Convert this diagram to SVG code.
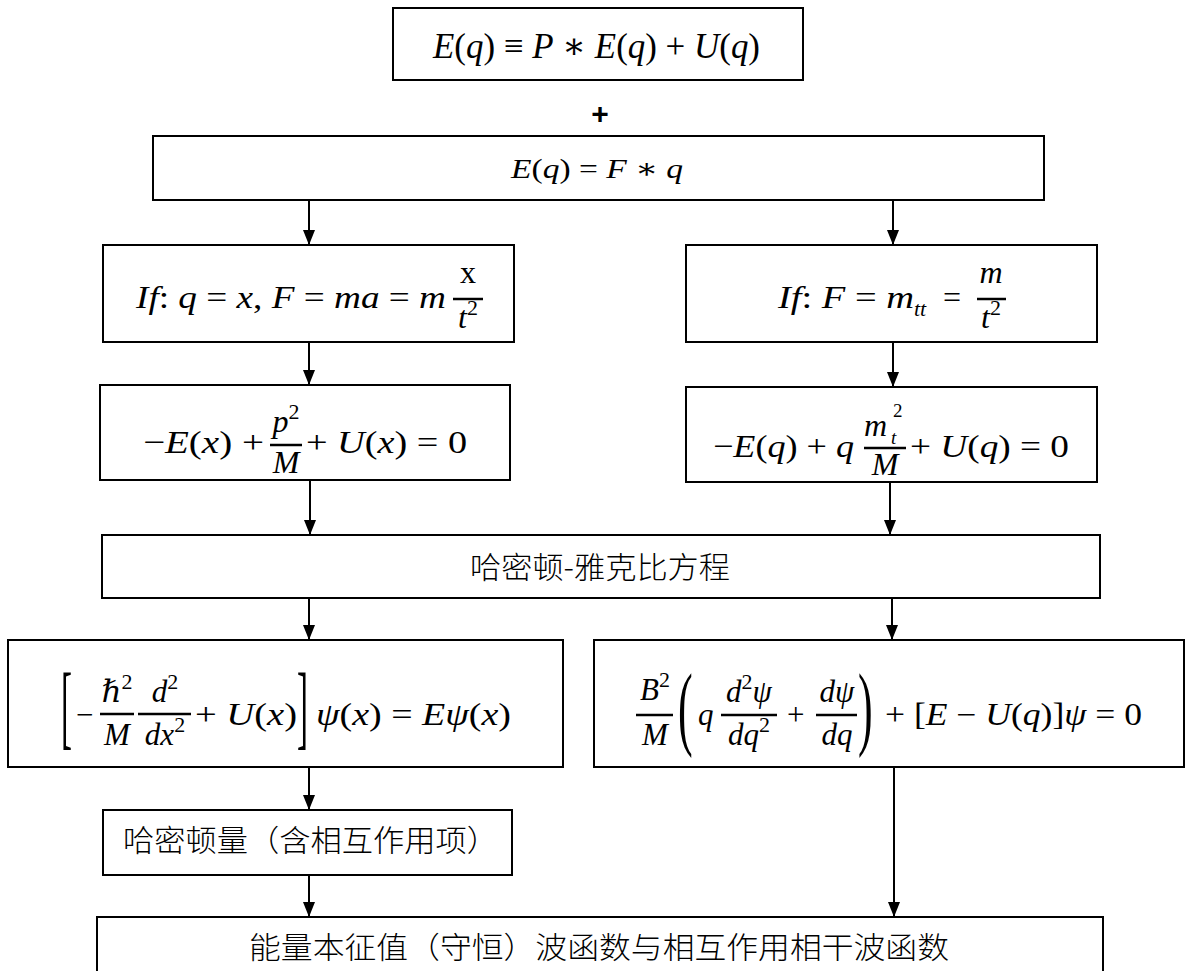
<svg xmlns="http://www.w3.org/2000/svg" width="1186" height="971" viewBox="0 0 1186 971">
<style>
.box{fill:#fff;stroke:#000;stroke-width:2}
.m{font-family:"Liberation Serif","DejaVu Serif",serif;font-size:32px;fill:#000}
.i{font-style:italic}
.s{font-size:22px}
.d{font-family:"Liberation Serif","DejaVu Serif",serif;font-size:44px;fill:#000}
.bar{stroke:#000;stroke-width:2.5}
.cjk{font-family:"Noto Sans CJK SC",sans-serif;font-size:30px;font-weight:300;fill:#000}
.conn line{stroke:#000;stroke-width:2}
</style>
<defs>
<marker id="ah" markerUnits="userSpaceOnUse" markerWidth="12" markerHeight="16" refX="6" refY="15" orient="0" viewBox="0 0 12 16">
<path d="M0,0 L12,0 L6,15 Z" fill="#000"/>
</marker>
</defs>

<g id="n-top">
<rect class="box" x="393" y="8" width="410" height="72"/>
<text class="m" x="433" y="58" textLength="327" lengthAdjust="spacingAndGlyphs" style="font-size:36px"><tspan class="i">E</tspan>(<tspan class="i">q</tspan>) ≡ <tspan class="i">P</tspan> ∗ <tspan class="i">E</tspan>(<tspan class="i">q</tspan>) + <tspan class="i">U</tspan>(<tspan class="i">q</tspan>)</text>
</g>

<g id="plus">
<text x="600" y="124" text-anchor="middle" style="font-family:'Liberation Sans',sans-serif;font-size:30px;font-weight:bold">+</text>
</g>

<g id="n-eq2">
<rect class="box" x="153" y="136" width="891" height="64"/>
<text class="m" x="511" y="178" textLength="172" lengthAdjust="spacingAndGlyphs" style="font-size:28px"><tspan class="i">E</tspan>(<tspan class="i">q</tspan>) = <tspan class="i">F</tspan> ∗ <tspan class="i">q</tspan></text>
</g>

<g id="n-ifL">
<rect class="box" x="103" y="245" width="411" height="97"/>
<text class="m" x="136" y="308" textLength="310" lengthAdjust="spacingAndGlyphs"><tspan class="i">If</tspan>: <tspan class="i">q</tspan> = <tspan class="i">x</tspan>, <tspan class="i">F</tspan> = <tspan class="i">ma</tspan> = <tspan class="i">m</tspan></text>
<text class="m" x="468" y="283" text-anchor="middle">x</text>
<line class="bar" x1="453" y1="299" x2="483" y2="299"/>
<text class="m" x="468" y="328" text-anchor="middle"><tspan class="i">t</tspan><tspan class="s" dy="-13">2</tspan></text>
</g>

<g id="n-ifR">
<rect class="box" x="686" y="245" width="411" height="97"/>
<text class="m" x="778" y="308" textLength="136" lengthAdjust="spacingAndGlyphs"><tspan class="i">If</tspan>: <tspan class="i">F</tspan> = <tspan class="i">m</tspan></text>
<text class="m i s" x="914" y="316">tt</text>
<text class="m" x="943" y="308">=</text>
<text class="m i" x="991" y="283" text-anchor="middle">m</text>
<line class="bar" x1="977" y1="299" x2="1006" y2="299"/>
<text class="m" x="991" y="328" text-anchor="middle"><tspan class="i">t</tspan><tspan class="s" dy="-13">2</tspan></text>
</g>

<g id="n-eqL">
<rect class="box" x="100" y="385" width="410" height="95"/>
<text class="m" x="143" y="453" textLength="121" lengthAdjust="spacingAndGlyphs">−<tspan class="i">E</tspan>(<tspan class="i">x</tspan>) +</text>
<text class="m" x="286" y="432" text-anchor="middle"><tspan class="i">p</tspan><tspan class="s" dy="-13">2</tspan></text>
<line class="bar" x1="270" y1="445" x2="302" y2="445"/>
<text class="m i" x="286" y="473" text-anchor="middle">M</text>
<text class="m" x="306" y="453" textLength="161" lengthAdjust="spacingAndGlyphs">+ <tspan class="i">U</tspan>(<tspan class="i">x</tspan>) = 0</text>
</g>

<g id="n-eqR">
<rect class="box" x="686" y="387" width="411" height="95"/>
<text class="m" x="713" y="457" textLength="141" lengthAdjust="spacingAndGlyphs">−<tspan class="i">E</tspan>(<tspan class="i">q</tspan>) + <tspan class="i">q</tspan></text>
<text class="m i" x="864" y="436">m</text>
<text class="m i" x="891" y="444" style="font-size:19px">t</text>
<text class="m" x="893" y="417" style="font-size:19px">2</text>
<line class="bar" x1="864" y1="448" x2="906" y2="448"/>
<text class="m i" x="885" y="475" text-anchor="middle">M</text>
<text class="m" x="910" y="457" textLength="159" lengthAdjust="spacingAndGlyphs">+ <tspan class="i">U</tspan>(<tspan class="i">q</tspan>) = 0</text>
</g>

<g id="n-hj">
<rect class="box" x="102" y="535" width="998" height="63"/>
<text class="cjk" x="470" y="578" textLength="260" lengthAdjust="spacingAndGlyphs">哈密顿-雅克比方程</text>
</g>

<g id="n-schL">
<rect class="box" x="8" y="640" width="555" height="127"/>
<text class="d" transform="translate(61,738) scale(0.75,2.1)">[</text>
<text class="m" x="76" y="725" style="font-size:31px">−</text>
<text class="m" x="117" y="702" text-anchor="middle" style="font-size:31px"><tspan class="i">ℏ</tspan><tspan class="s" dy="-13">2</tspan></text>
<line class="bar" x1="100" y1="714" x2="134" y2="714"/>
<text class="m i" x="117" y="745" text-anchor="middle" style="font-size:31px">M</text>
<text class="m" x="165" y="702" text-anchor="middle" style="font-size:31px"><tspan class="i">d</tspan><tspan class="s" dy="-13">2</tspan></text>
<line class="bar" x1="138" y1="714" x2="191" y2="714"/>
<text class="m" x="165" y="745" text-anchor="middle" style="font-size:31px"><tspan class="i">dx</tspan><tspan class="s" dy="-13">2</tspan></text>
<text class="m" x="195" y="725" textLength="102" lengthAdjust="spacingAndGlyphs" style="font-size:31px">+ <tspan class="i">U</tspan>(<tspan class="i">x</tspan>)</text>
<text class="d" transform="translate(297,738) scale(0.75,2.1)">]</text>
<text class="m" x="316" y="725" textLength="195" lengthAdjust="spacingAndGlyphs" style="font-size:31px"><tspan class="i">ψ</tspan>(<tspan class="i">x</tspan>) = <tspan class="i">Eψ</tspan>(<tspan class="i">x</tspan>)</text>
</g>

<g id="n-schR">
<rect class="box" x="594" y="640" width="590" height="127"/>
<text class="m" x="655" y="700" text-anchor="middle" style="font-size:31px"><tspan class="i">B</tspan><tspan class="s" dy="-13">2</tspan></text>
<line class="bar" x1="636" y1="715" x2="673" y2="715"/>
<text class="m i" x="655" y="745" text-anchor="middle" style="font-size:31px">M</text>
<text class="d" transform="translate(678,738) scale(1,2.1)">(</text>
<text class="m i" x="698" y="725" style="font-size:31px">q</text>
<text class="m" x="749" y="702" text-anchor="middle" style="font-size:31px"><tspan class="i">d</tspan><tspan class="s" dy="-13">2</tspan><tspan class="i" dy="13">ψ</tspan></text>
<line class="bar" x1="721" y1="715" x2="777" y2="715"/>
<text class="m" x="749" y="745" text-anchor="middle" style="font-size:31px"><tspan class="i">dq</tspan><tspan class="s" dy="-13">2</tspan></text>
<text class="m" x="787" y="725" style="font-size:31px">+</text>
<text class="m i" x="837" y="702" text-anchor="middle" style="font-size:31px">dψ</text>
<line class="bar" x1="816" y1="715" x2="857" y2="715"/>
<text class="m i" x="837" y="745" text-anchor="middle" style="font-size:31px">dq</text>
<text class="d" transform="translate(858,738) scale(1,2.1)">)</text>
<text class="m" x="885" y="725" textLength="257" lengthAdjust="spacingAndGlyphs" style="font-size:31px">+ [<tspan class="i">E</tspan> − <tspan class="i">U</tspan>(<tspan class="i">q</tspan>)]<tspan class="i">ψ</tspan> = 0</text>
</g>

<g id="n-ham">
<rect class="box" x="103" y="810" width="409" height="65"/>
<text class="cjk" x="123" y="851" textLength="375" lengthAdjust="spacingAndGlyphs">哈密顿量（含相互作用项）</text>
</g>

<g id="n-bottom">
<rect class="box" x="97" y="917" width="1006" height="70"/>
<text class="cjk" x="249" y="958" textLength="700" lengthAdjust="spacingAndGlyphs">能量本征值（守恒）波函数与相互作用相干波函数</text>
</g>

<g id="connectors" class="conn">
<line x1="309" y1="200" x2="309" y2="245" marker-end="url(#ah)"/>
<line x1="893" y1="200" x2="893" y2="245" marker-end="url(#ah)"/>
<line x1="309" y1="342" x2="309" y2="385" marker-end="url(#ah)"/>
<line x1="893" y1="342" x2="893" y2="387" marker-end="url(#ah)"/>
<line x1="310" y1="480" x2="310" y2="535" marker-end="url(#ah)"/>
<line x1="890" y1="482" x2="890" y2="535" marker-end="url(#ah)"/>
<line x1="309" y1="598" x2="309" y2="640" marker-end="url(#ah)"/>
<line x1="892" y1="598" x2="892" y2="640" marker-end="url(#ah)"/>
<line x1="309" y1="767" x2="309" y2="810" marker-end="url(#ah)"/>
<line x1="309" y1="875" x2="309" y2="917" marker-end="url(#ah)"/>
<line x1="894" y1="767" x2="894" y2="917" marker-end="url(#ah)"/>
</g>
</svg>
